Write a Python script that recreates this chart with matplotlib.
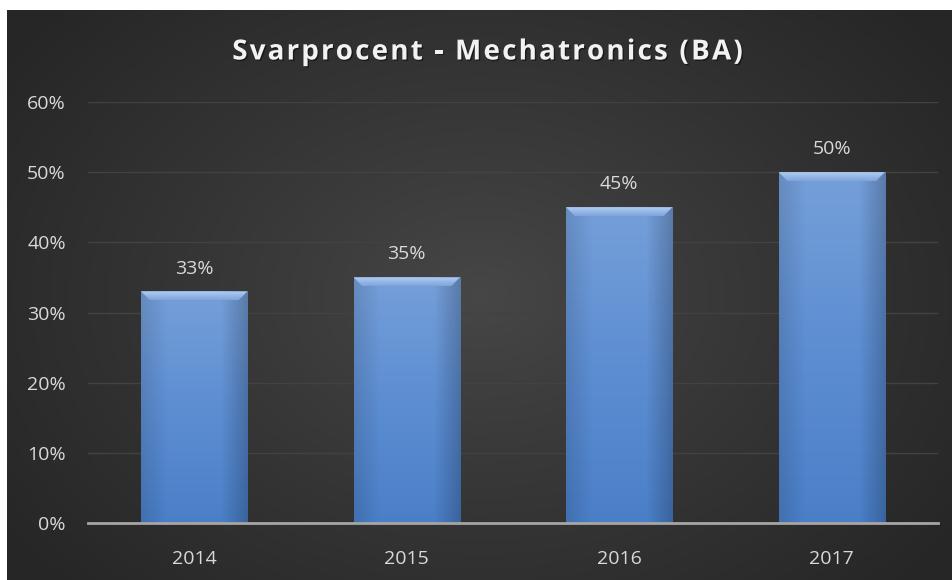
import numpy as np
import matplotlib
matplotlib.use("Agg")
import matplotlib.pyplot as plt
from matplotlib.patches import Polygon
from matplotlib.colors import LinearSegmentedColormap
import matplotlib.patheffects as pe

years = ["2014", "2015", "2016", "2017"]
values = [0.33, 0.35, 0.45, 0.50]
y_ticks = [0.0, 0.1, 0.2, 0.3, 0.4, 0.5, 0.6]
y_tick_labels = ["0%", "10%", "20%", "30%", "40%", "50%", "60%"]
title = "Svarprocent - Mechatronics (BA)"

W, H = 953, 580
fig = plt.figure(figsize=(W / 100, H / 100), dpi=100, facecolor="white")

# dark radial-gradient background panel
bg = fig.add_axes([7 / W, 0, (W - 7) / W, (H - 10) / H])
bg.set_axis_off()
ny, nx = 300, 500
yy, xx = np.mgrid[0:ny, 0:nx]
cx, cy = nx * 0.50, ny * 0.50
r = np.sqrt(((xx - cx) / (nx * 0.62)) ** 2 + ((yy - cy) / (ny * 0.75)) ** 2)
r = np.clip(r, 0, 1)
bg_cmap = LinearSegmentedColormap.from_list("bg", ["#474747", "#262626"])
bg.imshow(r ** 0.9, cmap=bg_cmap, aspect="auto", extent=[0, 1, 0, 1], vmin=0, vmax=1)
bg.set_xlim(0, 1)
bg.set_ylim(0, 1)

ax = fig.add_axes([88 / W, 57 / H, 850 / W, 421 / H])
ax.patch.set_alpha(0)
x = np.arange(len(years))
bw = 0.5
bars = ax.bar(x, values, width=bw, color="#5a8ad0", zorder=3)

bar_cmap = LinearSegmentedColormap.from_list("bar", ["#4a7fc8", "#5d8ed2", "#759fd9"])
side_cmap = LinearSegmentedColormap.from_list(
    "side", [(0, 0, 0, 0.12), (0, 0, 0, 0.0), (0, 0, 0, 0.0), (0, 0, 0, 0.0), (0, 0, 0, 0.22)])
bevel_cmap = LinearSegmentedColormap.from_list("bev", ["#7ea4da", "#b0cdf2"])
grad = np.linspace(0, 1, 256).reshape(-1, 1)
hgrad = np.linspace(0, 1, 256).reshape(1, -1)
bx_px = 9 / 212.5
by_px = 9 / (421 / 0.6)
for b, v in zip(bars, values):
    x0 = b.get_x()
    x1 = x0 + b.get_width()
    im = ax.imshow(grad, cmap=bar_cmap, extent=[x0, x1, 0, v], origin="lower",
                   aspect="auto", zorder=3.1)
    im.set_clip_path(b)
    im2 = ax.imshow(hgrad, cmap=side_cmap, extent=[x0, x1, 0, v], origin="lower",
                    aspect="auto", zorder=3.2)
    im2.set_clip_path(b)
    top = Polygon([[x0, v], [x1, v], [x1 - bx_px, v - by_px], [x0 + bx_px, v - by_px]],
                  closed=True, facecolor="none", edgecolor="none", zorder=3.3)
    ax.add_patch(top)
    im3 = ax.imshow(grad, cmap=bevel_cmap, extent=[x0, x1, v - by_px, v], origin="lower",
                    aspect="auto", zorder=3.3)
    im3.set_clip_path(top)
    ax.annotate(f"{round(v * 100)}%", (b.get_x() + b.get_width() / 2, v),
                xytext=(0, 16.5), textcoords="offset points", ha="center", va="center",
                color="#d9d9d9", fontsize=14, fontfamily="Open Sans")

ax.set_xlim(-0.5, len(years) - 0.5)
ax.set_ylim(0, 0.6)
ax.set_yticks(y_ticks)
ax.set_yticklabels(y_tick_labels)
ax.set_xticks(x)
ax.set_xticklabels(years)
ax.tick_params(axis="both", length=0, colors="#d9d9d9", labelsize=14)
ax.tick_params(axis="y", pad=16)
ax.tick_params(axis="x", pad=19.5)
for lbl in ax.get_xticklabels() + ax.get_yticklabels():
    lbl.set_fontfamily("Open Sans")
ax.grid(axis="y", color="#424242", linewidth=1, zorder=1)
for s in ["top", "right", "left"]:
    ax.spines[s].set_visible(False)
ax.spines["bottom"].set_color("#a6a6a6")
ax.spines["bottom"].set_linewidth(2)
ax.spines["bottom"].set_zorder(4)

# Title with letter spacing: place characters one by one
renderer = fig.canvas.get_renderer()
tkw = dict(color="#f2f2f2", fontsize=20, fontweight="bold", fontfamily="Open Sans",
           va="center", ha="left")
shadow = [pe.withSimplePatchShadow(offset=(1, -1), shadow_rgbFace="black", alpha=0.45)]
spacing = 2.2
widths = []
for ch in title:
    if ch == " ":
        t = fig.text(0, 0, "a a", **tkw)
        t2 = fig.text(0, 0, "aa", **tkw)
        w = t.get_window_extent(renderer).width - t2.get_window_extent(renderer).width
        t2.remove()
    else:
        t = fig.text(0, 0, ch, **tkw)
        w = t.get_window_extent(renderer).width
    widths.append(w)
    t.remove()
total = sum(widths) + spacing * (len(title) - 1)
xc = 487.5
xpos = xc - total / 2
yc = 1 - 52 / H
for ch, w in zip(title, widths):
    if ch != " ":
        fig.text(xpos / W, yc, ch, path_effects=shadow, **tkw)
    xpos += w + spacing

fig.savefig("out.png", dpi=100, facecolor="white")
